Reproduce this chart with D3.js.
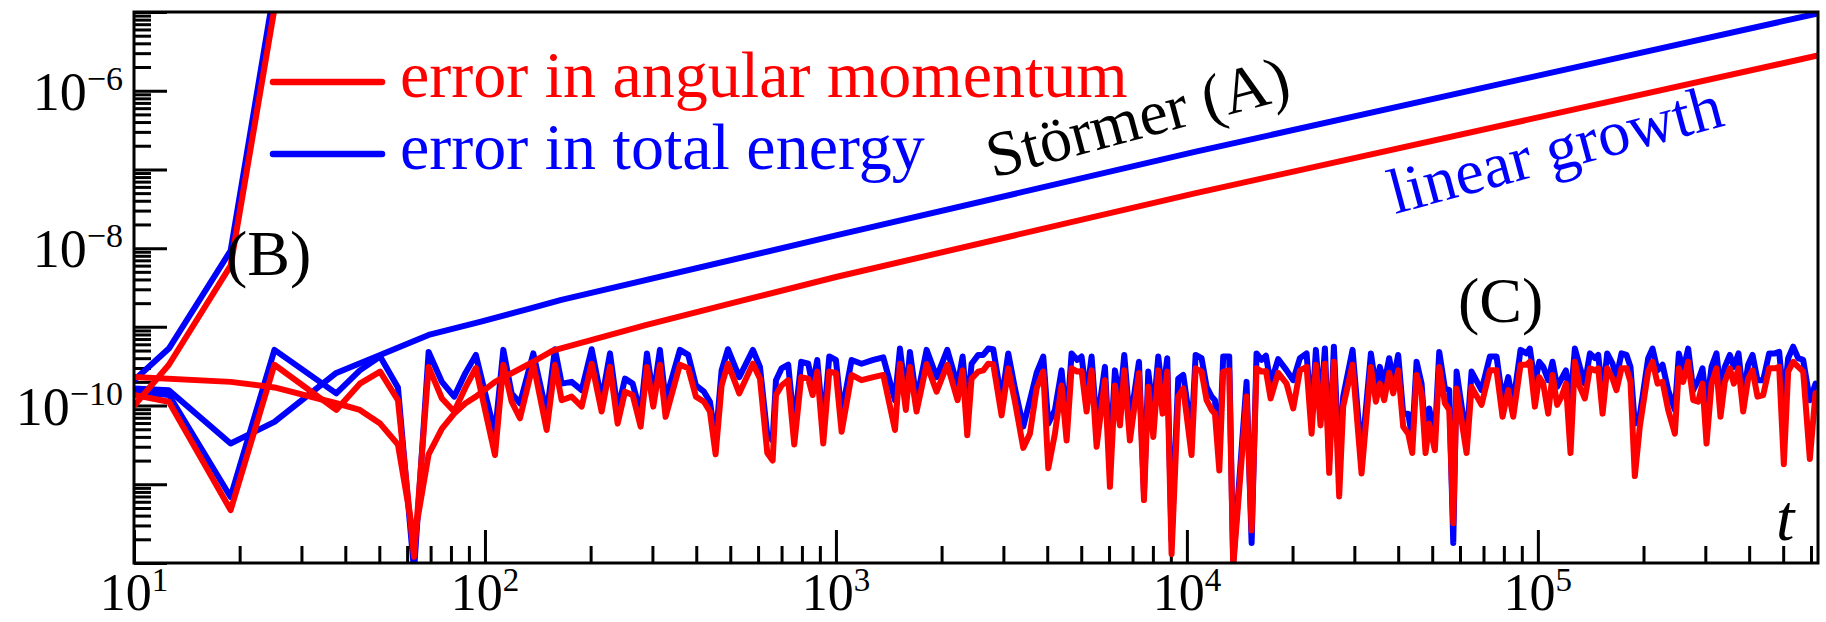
<!DOCTYPE html>
<html>
<head>
<meta charset="utf-8">
<script src="https://cdn.jsdelivr.net/npm/d3@7"></script>
<style>
  body { margin: 0; background: #fff; }
  svg { display: block; }
</style>
</head>
<body>
<svg id="chart" width="1826" height="622"></svg>
<script>
// Values (t and absolute error)

// (B) unstable integrator, blows up right away
const tB = [10, 12.57, 18.85, 25.13];
const energyB = [2.1e-10, 5.3e-10, 9.3e-9, 2e-5];
const momentumB = [9.9e-11, 3.3e-10, 6.0e-9, 1.1e-5];

// (A) Stormer, linear growth
const tStormerEnergy = [10, 12.57, 18.85, 25.13, 37.7, 50.27, 69.1, 96.8, 134, 165, 1000, 10600, 628000];
const stormerEnergy = [1.65e-10, 1.57e-10, 3.3e-11, 6.2e-11, 2.6e-10, 4.4e-10, 7.9e-10, 1.16e-9, 1.7e-9, 2.2e-9, 1.45e-8, 1.68e-7, 9.6e-6];
const tStormerMomentum = [10, 18.85, 25.13, 37.7, 44.0, 50.27, 56.5, 62.8, 69.1, 75.4, 81.7, 88.0, 94.2, 106.8, 134, 156, 287, 550, 1000, 10600, 628000];
const stormerMomentum = [2.3e-10, 2.0e-10, 1.7e-10, 1.07e-10, 8.8e-11, 5.9e-11, 3.2e-11, 2e-12, 2.4e-11, 5.1e-11, 7.9e-11, 1.07e-10, 1.3e-10, 2.0e-10, 3.4e-10, 5.0e-10, 1.05e-9, 2.2e-9, 4.3e-9, 5.0e-8, 2.8e-6];

// (C) bounded error, round-off level
const tNoise = [
  10, 12.57, 18.85, 25.13, 37.7, 44.0, 50.27, 56.5, 62.8, 69.1, 75.4, 81.7, 88.0, 94.2,
  106.8, 112.8, 119.1, 125.8, 137.3, 149.9, 158.3, 165.4, 176.6, 188.6, 201.4, 215.0, 227.1, 238.8, 250.6,
  263.5, 277.7, 289.4, 301.7, 315.1, 327.1, 359.3, 379.5, 399.1, 420.7, 437.5, 454.1, 472.4, 492.4, 530.4,
  580.0, 607.5, 637.5, 660.2, 674.8, 700.1, 731.3, 760.8, 796.5, 834.0, 858.1, 884.7, 920.2, 957.3, 999.8, 1038,
  1108, 1183, 1278, 1364, 1473, 1522, 1582, 1625, 1697, 1813, 1936, 2076, 2221, 2296, 2367, 2435, 2544, 2629,
  2716, 2807, 2965, 3097, 3236, 3418, 3571, 3731, 3897, 4027, 4207, 4394, 4542, 4693, 4871, 5011, 5178, 5351,
  5530, 5840, 6035, 6237, 6446, 6631, 6880, 7302, 7545, 7762, 8022, 8288, 8527, 8790, 9043, 9447, 9763, 10310, 10590,
  11010, 11380, 11760, 12020, 12370, 12690, 13200, 13550, 14790, 15290, 15790, 16320, 16800, 17320, 18200, 19230,
  20090, 20990, 21930, 22660, 23310, 24030, 24730, 25440, 26230, 27160, 27880, 29650, 31450, 33440, 34550, 35470,
  36490, 37710, 38710, 40000, 41330, 42720, 43860, 45120, 46630, 47860, 49020, 50880, 52360, 54340, 55910, 57400,
  58670, 62650, 64730, 69100, 73000, 76250, 79320, 82330, 85070, 89250, 92840, 94890,
  98060, 100900, 103600, 107000, 110100, 113500, 116800, 120200, 123900, 127500, 131700, 136100, 140700, 145400,
  148600, 152900, 157600, 163200, 167500, 173100, 178900, 183600, 188900, 195200, 206200, 212200, 219300, 226600,
  235100, 245700, 252200, 259400, 268100, 277100, 286300, 294500, 302400, 312500, 322800, 331400, 341000, 352400,
  361800, 373000, 384600, 397400, 408900, 422500, 438500, 456000, 473400, 487000, 502100, 516700, 533900, 551700,
  570100, 595600, 618100, 628000
];
const energyNoise = [
  1.5e-10, 1.36e-10, 6.9e-12, 5.1e-10, 1.43e-10, 2.8e-10, 4.2e-10, 1.7e-10, 8e-13, 4.8e-10, 2.0e-10, 1.3e-10, 2.6e-10, 4.4e-10,
  4.4e-11, 5.1e-10, 1.43e-10, 1.07e-10, 4.6e-10, 7.9e-11, 5.2e-10, 1.9e-10, 2.0e-10, 1.57e-10, 5.2e-10, 1.17e-10, 4.6e-10, 8.8e-11, 2.2e-10,
  1.9e-10, 7.9e-11, 4.6e-10, 1.3e-10, 5.1e-10, 1.17e-10, 5.1e-10, 4.4e-10, 1.8e-10, 1.5e-10, 1.12e-10, 3.6e-11, 2.8e-10, 5.2e-10, 2.3e-10,
  5.1e-10, 3.1e-10, 4.2e-11, 3.6e-11, 2.1e-10, 2.97e-10, 3.3e-10, 5.4e-11, 3.6e-10, 3.4e-10, 1.8e-10, 3.8e-10, 5.4e-11, 4.2e-10, 3.8e-10, 7.9e-11,
  3.8e-10, 3.4e-10, 3.8e-10, 4.1e-10, 1.17e-10, 5.3e-10, 1.3e-10, 4.8e-10, 1.17e-10, 5.1e-10, 2.3e-10, 5.1e-10, 1.8e-10, 4.2e-10, 8.8e-11, 3.4e-10, 4.4e-10, 4.4e-10,
  5.3e-10, 5.2e-10, 1.17e-10, 4.6e-10, 1.65e-10, 5.4e-11, 1.17e-10, 2.6e-10, 4.2e-10, 5.9e-11, 8.8e-11, 2.8e-10, 5.9e-11, 4.6e-10, 3.8e-10, 4.2e-10, 1.3e-10, 4.2e-10,
  5.4e-11, 3.1e-10, 2.0e-11, 2.8e-10, 1.17e-10, 4.4e-10, 5.9e-11, 3.6e-10, 7.7e-12, 2.7e-10, 7.9e-11, 4.2e-10, 1.3e-10, 4.0e-10, 1.95e-12, 2.2e-10, 2.45e-10, 4.4e-11, 4.4e-10,
  4.0e-10, 1.73e-10, 1.3e-10, 1.17e-10, 2.5e-11, 4.2e-10, 4.2e-10, 1.0e-12, 2.0e-10, 1.8e-12, 4.6e-10, 3.8e-10, 4.3e-10, 1.9e-10, 3.9e-10, 2.8e-10,
  2.1e-10, 4.0e-10, 4.6e-10, 6.5e-11, 5.1e-10, 8.8e-11, 5.3e-10, 2.0e-11, 5.6e-10, 1.67e-11, 1.3e-10, 5.1e-10, 2.2e-11, 4.6e-10, 1.73e-10, 3.1e-10,
  1.9e-10, 4.0e-10, 2.1e-10, 4.4e-10, 7.9e-11, 7.9e-11, 3.8e-11, 3.6e-10, 1.9e-10, 3.8e-11, 9.2e-11, 4.0e-11, 4.8e-10, 1.65e-10, 1.57e-10, 1.8e-12,
  2.7e-10, 3.6e-11, 2.7e-10, 1.57e-10, 4.2e-10, 4.2e-10, 1.17e-10, 2.3e-10, 1.07e-10, 5.1e-10, 4.6e-10, 5.3e-10,
  1.9e-10, 3.6e-10, 3.1e-10, 2.1e-10, 3.6e-10, 1.73e-10, 2.2e-10, 2.8e-10, 1.17e-10, 5.3e-10, 3.1e-10, 1.9e-10, 4.6e-10, 4.0e-10,
  4.4e-10, 1.3e-10, 4.6e-10, 3.4e-10, 2.3e-10, 4.6e-10, 4.4e-10, 3.1e-10, 5.9e-11, 7.5e-11, 4.0e-10, 5.3e-10, 2.8e-10, 3.3e-10,
  1.57e-10, 8.8e-11, 4.6e-10, 2.8e-10, 5.3e-10, 1.57e-10, 2.1e-10, 2.97e-10, 9.7e-11, 3.1e-10, 4.6e-10, 1.57e-10, 3.1e-10, 4.4e-10,
  3.1e-10, 4.6e-10, 1.3e-10, 3.3e-10, 4.4e-10, 2.1e-10, 2.1e-10, 4.6e-10, 4.6e-10, 4.8e-10, 1.17e-10, 4.0e-10, 5.6e-10, 4.0e-10,
  3.8e-10, 1.17e-10, 1.9e-10, 1.73e-10
];
const momentumNoise = [
  1.36e-10, 1.12e-10, 4.7e-12, 3.3e-10, 8.8e-11, 1.9e-10, 2.7e-10, 1.17e-10, 1.2e-12, 3.1e-10, 1.23e-10, 8.4e-11, 1.7e-10, 3.0e-10,
  2.35e-11, 3.3e-10, 1.12e-10, 6.9e-11, 3.4e-10, 4.9e-11, 3.3e-10, 1.17e-10, 1.3e-10, 9.7e-11, 3.4e-10, 8.4e-11, 3.1e-10, 5.9e-11, 1.5e-10,
  1.36e-10, 5.4e-11, 3.1e-10, 9.7e-11, 3.3e-10, 7.2e-11, 3.3e-10, 2.97e-10, 1.3e-10, 1.12e-10, 8.4e-11, 2.4e-11, 1.8e-10, 3.4e-10, 1.43e-10,
  3.4e-10, 2.2e-10, 2.5e-11, 2.0e-11, 1.36e-10, 1.8e-10, 2.1e-10, 3.2e-11, 2.3e-10, 2.2e-10, 1.36e-10, 2.7e-10, 3.3e-11, 2.7e-10, 2.6e-10, 4.65e-11,
  2.45e-10, 2.1e-10, 2.3e-10, 2.45e-10, 4.9e-11, 3.4e-10, 8.8e-11, 3.1e-10, 8.4e-11, 3.35e-10, 1.5e-10, 3.3e-10, 1.17e-10, 2.8e-10, 4.2e-11, 2.2e-10, 2.7e-10, 2.8e-10,
  3.4e-10, 3.35e-10, 7.5e-11, 2.97e-10, 1.12e-10, 2.9e-11, 4.4e-11, 1.65e-10, 2.7e-10, 1.6e-11, 4.4e-11, 1.8e-10, 3.6e-11, 2.97e-10, 2.7e-10, 2.75e-10, 8.4e-11, 2.8e-10,
  3.0e-11, 2.1e-10, 9.3e-12, 1.8e-10, 5.6e-11, 2.8e-10, 3.6e-11, 2.6e-10, 6.3e-12, 1.73e-10, 4.0e-11, 2.8e-10, 7.9e-11, 2.7e-10, 1.3e-12, 1.3e-10, 1.65e-10, 2.35e-11, 2.97e-10,
  2.7e-10, 1.17e-10, 8.8e-11, 7.9e-11, 1.5e-11, 2.7e-10, 2.8e-10, 9e-13, 1.3e-10, 2.6e-12, 2.97e-10, 2.7e-10, 2.75e-10, 1.23e-10, 2.6e-10, 1.9e-10,
  9.2e-11, 2.8e-10, 3.1e-10, 4.4e-11, 3.3e-10, 5.6e-11, 3.4e-10, 1.4e-11, 3.6e-10, 7.0e-12, 9.7e-11, 3.3e-10, 1.37e-11, 3.1e-10, 1.12e-10, 1.9e-10,
  1.17e-10, 2.6e-10, 1.43e-10, 2.8e-10, 5.4e-11, 4.4e-11, 2.5e-11, 2.45e-10, 1.43e-10, 2.5e-11, 5.9e-11, 2.7e-11, 3.1e-10, 1.07e-10, 8.8e-11, 3.2e-12,
  1.65e-10, 2.5e-11, 1.73e-10, 1.02e-10, 2.8e-10, 2.8e-10, 7.2e-11, 1.57e-10, 7.2e-11, 3.3e-10, 3.3e-10, 3.6e-10,
  9.7e-11, 2.3e-10, 1.9e-10, 7.9e-11, 2.45e-10, 1.02e-10, 1.3e-10, 1.9e-10, 2.5e-11, 3.6e-10, 1.73e-10, 1.23e-10, 2.97e-10, 2.8e-10,
  2.97e-10, 7.9e-11, 2.97e-10, 2.2e-10, 1.57e-10, 2.97e-10, 2.97e-10, 2.0e-10, 1.27e-11, 5.4e-11, 2.7e-10, 3.6e-10, 1.9e-10, 2.0e-10,
  8.8e-11, 4.4e-11, 2.97e-10, 2.0e-10, 3.6e-10, 1.17e-10, 1.12e-10, 1.9e-10, 3.3e-11, 1.9e-10, 2.97e-10, 7.2e-11, 2.0e-10, 2.97e-10,
  1.9e-10, 2.97e-10, 8.4e-11, 2.2e-10, 2.8e-10, 1.3e-10, 1.36e-10, 2.97e-10, 2.97e-10, 3.1e-10, 1.8e-11, 2.7e-10, 3.6e-10, 3.1e-10,
  2.7e-10, 2.1e-11, 1.43e-10, 1.3e-10
];

// axis labels (powers of ten)
const xLabelExps = [1, 2, 3, 4, 5];
const yLabelExps = [-6, -8, -10];

// ---- layout ----
const LEFT = 134, RIGHT = 1818, TOP = 12, BOTTOM = 563;
const RED = '#ff0000', BLUE = '#0000ff';
const SERIF = '"Liberation Serif", "Times New Roman", "DejaVu Serif", serif';
const TILT = -15;

const svg = d3.select('#chart');

const x = d3.scaleLog().domain([10, 628318]).range([LEFT, RIGHT]);
const y = d3.scaleLog().domain([1e-12, 1e-5]).range([BOTTOM, TOP]);

// tick values: decades are major, 2..9 are minor
const xMajor = d3.range(1, 6).map(e => Math.pow(10, e));
const xMinor = [];
d3.range(1, 6).forEach(e => d3.range(2, 10).forEach(m => {
  const v = m * Math.pow(10, e);
  if (v < x.domain()[1]) xMinor.push(v);
}));
const yMajor = d3.range(-12, -4).map(e => Math.pow(10, e));
const yMinor = [];
d3.range(-12, -5).forEach(e => d3.range(2, 10).forEach(m => yMinor.push(m * Math.pow(10, e))));

function drawTicks(axis, values, size, transform) {
  const g = svg.append('g')
    .attr('transform', transform)
    .call(axis.tickValues(values).tickSizeInner(-size).tickSizeOuter(0).tickFormat(''));
  g.select('.domain').remove();
  g.selectAll('.tick line').attr('stroke', '#000').attr('stroke-width', 3);
}
drawTicks(d3.axisBottom(x), xMajor, 33, `translate(0,${BOTTOM})`);
drawTicks(d3.axisBottom(x), xMinor, 17, `translate(0,${BOTTOM})`);
drawTicks(d3.axisLeft(y), yMajor, 33, `translate(${LEFT},0)`);
drawTicks(d3.axisLeft(y), yMinor, 17, `translate(${LEFT},0)`);

// clip for the data
svg.append('clipPath').attr('id', 'plotClip')
  .append('rect').attr('x', LEFT).attr('y', TOP).attr('width', RIGHT - LEFT).attr('height', BOTTOM - TOP);

const line = d3.line().x(d => x(d[0])).y(d => y(d[1]));
const plot = svg.append('g').attr('clip-path', 'url(#plotClip)');

function addSeries(ts, vs, color) {
  plot.append('path')
    .datum(ts.map((t, i) => [t, vs[i]]))
    .attr('d', line)
    .attr('fill', 'none')
    .attr('stroke', color)
    .attr('stroke-width', 6)
    .attr('stroke-linejoin', 'round');
}
// energy (blue) under, momentum (red) on top
addSeries(tStormerEnergy, stormerEnergy, BLUE);
addSeries(tB, energyB, BLUE);
addSeries(tNoise, energyNoise, BLUE);
addSeries(tStormerMomentum, stormerMomentum, RED);
addSeries(tB, momentumB, RED);
addSeries(tNoise, momentumNoise, RED);

// frame
svg.append('rect')
  .attr('x', LEFT).attr('y', TOP).attr('width', RIGHT - LEFT).attr('height', BOTTOM - TOP)
  .attr('fill', 'none').attr('stroke', '#000').attr('stroke-width', 3);

function addText(attrs, str) {
  const t = svg.append('text').style('font-family', SERIF);
  Object.keys(attrs).forEach(k => t.attr(k, attrs[k]));
  if (str !== undefined) t.text(str);
  return t;
}

// tick labels 10^n
xLabelExps.forEach(e => {
  const txt = addText({ x: x(Math.pow(10, e)), y: 610, 'text-anchor': 'middle', 'font-size': 52 });
  txt.append('tspan').text('10');
  txt.append('tspan').attr('dy', -19).attr('font-size', 33).text(e);
});
yLabelExps.forEach(e => {
  const txt = addText({ x: 123, y: y(Math.pow(10, e)) + 19, 'text-anchor': 'end', 'font-size': 54 });
  txt.append('tspan').text('10');
  txt.append('tspan').attr('dy', -20).attr('font-size', 34).text('\u2212' + Math.abs(e));
});

// legend
const legend = [
  { label: 'error in angular momentum', color: RED, y: 82 },
  { label: 'error in total energy', color: BLUE, y: 154 }
];
legend.forEach(d => {
  svg.append('line')
    .attr('x1', 273).attr('x2', 382).attr('y1', d.y).attr('y2', d.y)
    .attr('stroke', d.color).attr('stroke-width', 6.5).attr('stroke-linecap', 'round');
  addText({ x: 400, y: d.y + 15, 'font-size': 66, fill: d.color }, d.label);
});

// annotations
addText({ transform: `translate(993,178) rotate(${TILT})`, 'font-size': 64 }, 'Störmer (A)');
addText({ transform: `translate(1395,214) rotate(${TILT})`, 'font-size': 64, fill: BLUE }, 'linear growth');
addText({ x: 226, y: 275, 'font-size': 64 }, '(B)');
addText({ x: 1458, y: 322, 'font-size': 64 }, '(C)');
addText({ x: 1776, y: 540, 'font-size': 66, 'font-style': 'italic' }, 't');
</script>
</body>
</html>
